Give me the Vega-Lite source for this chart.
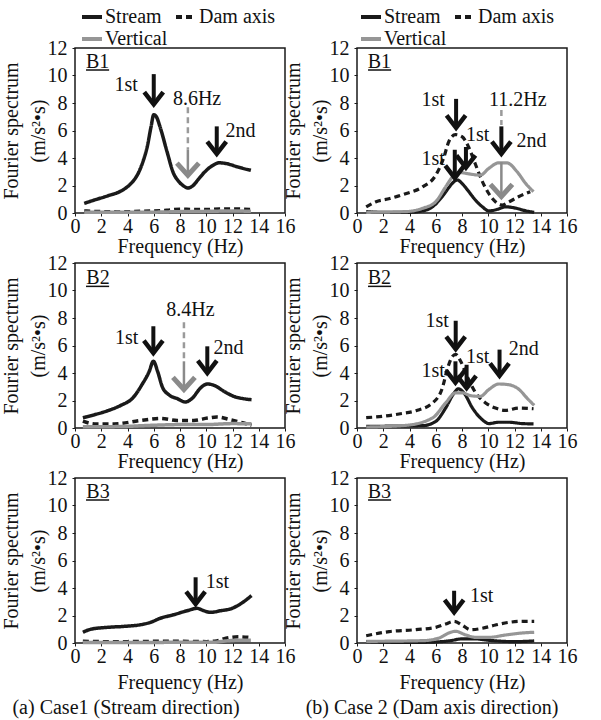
{
"$schema":"https://vega.github.io/schema/vega-lite/v6.json",
"background":"white",
"padding":{"left":0,"top":4,"right":0,"bottom":0},
"config":{
 "font":"Liberation Serif",
 "title":{"font":"Liberation Serif","fontSize":20,"fontWeight":"normal","color":"#111"},
 "axis":{"labelFont":"Liberation Serif","titleFont":"Liberation Serif"},
 "legend":{"labelFont":"Liberation Serif","titleFont":"Liberation Serif"},
 "style":{"guide-label":{"font":"Liberation Serif"},"guide-title":{"font":"Liberation Serif"}}
},
"datasets":{
 "curves":[
  {"p":"a1","s":"Stream","x":0.7,"y":0.7},{"p":"a1","s":"Stream","x":1.5,"y":0.95},{"p":"a1","s":"Stream","x":2.5,"y":1.25},{"p":"a1","s":"Stream","x":3.5,"y":1.6},{"p":"a1","s":"Stream","x":4.05,"y":1.95},{"p":"a1","s":"Stream","x":4.5,"y":2.4},{"p":"a1","s":"Stream","x":4.85,"y":2.95},{"p":"a1","s":"Stream","x":5.2,"y":3.8},{"p":"a1","s":"Stream","x":5.5,"y":4.8},{"p":"a1","s":"Stream","x":5.8,"y":6.3},{"p":"a1","s":"Stream","x":6.0,"y":7.15},{"p":"a1","s":"Stream","x":6.2,"y":7.0},{"p":"a1","s":"Stream","x":6.5,"y":6.2},{"p":"a1","s":"Stream","x":7.0,"y":4.5},{"p":"a1","s":"Stream","x":7.5,"y":2.9},{"p":"a1","s":"Stream","x":7.9,"y":2.3},{"p":"a1","s":"Stream","x":8.3,"y":1.95},{"p":"a1","s":"Stream","x":8.6,"y":1.82},{"p":"a1","s":"Stream","x":9.0,"y":2.0},{"p":"a1","s":"Stream","x":9.4,"y":2.45},{"p":"a1","s":"Stream","x":9.9,"y":3.0},{"p":"a1","s":"Stream","x":10.4,"y":3.4},{"p":"a1","s":"Stream","x":11.0,"y":3.65},{"p":"a1","s":"Stream","x":11.5,"y":3.6},{"p":"a1","s":"Stream","x":12.4,"y":3.35},{"p":"a1","s":"Stream","x":13.4,"y":3.1},
  {"p":"a1","s":"Dam axis","x":0.7,"y":0.15},{"p":"a1","s":"Dam axis","x":2,"y":0.1},{"p":"a1","s":"Dam axis","x":3.5,"y":0.08},{"p":"a1","s":"Dam axis","x":5,"y":0.12},{"p":"a1","s":"Dam axis","x":6,"y":0.15},{"p":"a1","s":"Dam axis","x":7,"y":0.2},{"p":"a1","s":"Dam axis","x":8,"y":0.28},{"p":"a1","s":"Dam axis","x":9,"y":0.25},{"p":"a1","s":"Dam axis","x":10,"y":0.25},{"p":"a1","s":"Dam axis","x":11,"y":0.3},{"p":"a1","s":"Dam axis","x":12,"y":0.3},{"p":"a1","s":"Dam axis","x":13.4,"y":0.25},
  {"p":"a1","s":"Vertical","x":0.7,"y":0.05},{"p":"a1","s":"Vertical","x":3,"y":0.05},{"p":"a1","s":"Vertical","x":6,"y":0.06},{"p":"a1","s":"Vertical","x":8,"y":0.1},{"p":"a1","s":"Vertical","x":10,"y":0.12},{"p":"a1","s":"Vertical","x":12,"y":0.15},{"p":"a1","s":"Vertical","x":13.4,"y":0.12},

  {"p":"b1","s":"Stream","x":0.7,"y":0.1},{"p":"b1","s":"Stream","x":2,"y":0.05},{"p":"b1","s":"Stream","x":4,"y":0.05},{"p":"b1","s":"Stream","x":5.0,"y":0.15},{"p":"b1","s":"Stream","x":5.75,"y":0.45},{"p":"b1","s":"Stream","x":6.5,"y":1.2},{"p":"b1","s":"Stream","x":7.0,"y":1.85},{"p":"b1","s":"Stream","x":7.3,"y":2.2},{"p":"b1","s":"Stream","x":7.65,"y":2.4},{"p":"b1","s":"Stream","x":8.0,"y":2.15},{"p":"b1","s":"Stream","x":8.4,"y":1.7},{"p":"b1","s":"Stream","x":8.8,"y":1.2},{"p":"b1","s":"Stream","x":9.2,"y":0.75},{"p":"b1","s":"Stream","x":9.55,"y":0.45},{"p":"b1","s":"Stream","x":10.05,"y":0.15},{"p":"b1","s":"Stream","x":10.7,"y":0.27},{"p":"b1","s":"Stream","x":11.3,"y":0.45},{"p":"b1","s":"Stream","x":12.1,"y":0.35},{"p":"b1","s":"Stream","x":12.8,"y":0.17},{"p":"b1","s":"Stream","x":13.5,"y":0.05},
  {"p":"b1","s":"Dam axis","x":0.7,"y":0.45},{"p":"b1","s":"Dam axis","x":1.45,"y":0.82},{"p":"b1","s":"Dam axis","x":2.5,"y":1.05},{"p":"b1","s":"Dam axis","x":3.7,"y":1.4},{"p":"b1","s":"Dam axis","x":5.0,"y":1.9},{"p":"b1","s":"Dam axis","x":6.0,"y":2.75},{"p":"b1","s":"Dam axis","x":6.6,"y":4.0},{"p":"b1","s":"Dam axis","x":7.0,"y":5.2},{"p":"b1","s":"Dam axis","x":7.5,"y":5.7},{"p":"b1","s":"Dam axis","x":8.0,"y":5.55},{"p":"b1","s":"Dam axis","x":8.5,"y":4.8},{"p":"b1","s":"Dam axis","x":9.0,"y":3.6},{"p":"b1","s":"Dam axis","x":9.5,"y":2.4},{"p":"b1","s":"Dam axis","x":10.05,"y":1.4},{"p":"b1","s":"Dam axis","x":10.55,"y":0.82},{"p":"b1","s":"Dam axis","x":11.05,"y":0.58},{"p":"b1","s":"Dam axis","x":11.6,"y":0.82},{"p":"b1","s":"Dam axis","x":12.3,"y":1.18},{"p":"b1","s":"Dam axis","x":13.2,"y":1.55},
  {"p":"b1","s":"Vertical","x":0.7,"y":0.05},{"p":"b1","s":"Vertical","x":3.7,"y":0.1},{"p":"b1","s":"Vertical","x":5.0,"y":0.34},{"p":"b1","s":"Vertical","x":6.0,"y":0.82},{"p":"b1","s":"Vertical","x":6.75,"y":1.9},{"p":"b1","s":"Vertical","x":7.3,"y":2.65},{"p":"b1","s":"Vertical","x":7.8,"y":2.95},{"p":"b1","s":"Vertical","x":8.5,"y":2.85},{"p":"b1","s":"Vertical","x":9.4,"y":2.75},{"p":"b1","s":"Vertical","x":10.05,"y":3.25},{"p":"b1","s":"Vertical","x":10.8,"y":3.65},{"p":"b1","s":"Vertical","x":11.4,"y":3.65},{"p":"b1","s":"Vertical","x":12.2,"y":3.0},{"p":"b1","s":"Vertical","x":12.85,"y":2.15},{"p":"b1","s":"Vertical","x":13.45,"y":1.55},

  {"p":"a2","s":"Stream","x":0.6,"y":0.75},{"p":"a2","s":"Stream","x":1.5,"y":0.97},{"p":"a2","s":"Stream","x":2.5,"y":1.26},{"p":"a2","s":"Stream","x":3.5,"y":1.65},{"p":"a2","s":"Stream","x":4.4,"y":2.18},{"p":"a2","s":"Stream","x":5.1,"y":3.15},{"p":"a2","s":"Stream","x":5.65,"y":4.1},{"p":"a2","s":"Stream","x":5.97,"y":4.85},{"p":"a2","s":"Stream","x":6.3,"y":4.1},{"p":"a2","s":"Stream","x":6.65,"y":3.0},{"p":"a2","s":"Stream","x":7.15,"y":2.42},{"p":"a2","s":"Stream","x":7.8,"y":2.13},{"p":"a2","s":"Stream","x":8.4,"y":1.89},{"p":"a2","s":"Stream","x":8.95,"y":2.18},{"p":"a2","s":"Stream","x":9.55,"y":2.9},{"p":"a2","s":"Stream","x":10.1,"y":3.2},{"p":"a2","s":"Stream","x":10.6,"y":3.1},{"p":"a2","s":"Stream","x":11.35,"y":2.67},{"p":"a2","s":"Stream","x":12.1,"y":2.3},{"p":"a2","s":"Stream","x":12.85,"y":2.13},{"p":"a2","s":"Stream","x":13.45,"y":2.06},
  {"p":"a2","s":"Dam axis","x":0.6,"y":0.5},{"p":"a2","s":"Dam axis","x":1.5,"y":0.3},{"p":"a2","s":"Dam axis","x":3,"y":0.3},{"p":"a2","s":"Dam axis","x":5,"y":0.55},{"p":"a2","s":"Dam axis","x":6.5,"y":0.7},{"p":"a2","s":"Dam axis","x":7.8,"y":0.55},{"p":"a2","s":"Dam axis","x":9.05,"y":0.55},{"p":"a2","s":"Dam axis","x":10.1,"y":0.72},{"p":"a2","s":"Dam axis","x":10.8,"y":0.8},{"p":"a2","s":"Dam axis","x":11.85,"y":0.6},{"p":"a2","s":"Dam axis","x":12.85,"y":0.36},{"p":"a2","s":"Dam axis","x":13.45,"y":0.2},
  {"p":"a2","s":"Vertical","x":0.6,"y":0.1},{"p":"a2","s":"Vertical","x":3,"y":0.1},{"p":"a2","s":"Vertical","x":6,"y":0.2},{"p":"a2","s":"Vertical","x":8,"y":0.25},{"p":"a2","s":"Vertical","x":10,"y":0.25},{"p":"a2","s":"Vertical","x":12,"y":0.32},{"p":"a2","s":"Vertical","x":13.45,"y":0.3},

  {"p":"b2","s":"Stream","x":0.7,"y":0.12},{"p":"b2","s":"Stream","x":5.0,"y":0.17},{"p":"b2","s":"Stream","x":6.0,"y":0.48},{"p":"b2","s":"Stream","x":6.75,"y":1.45},{"p":"b2","s":"Stream","x":7.4,"y":2.55},{"p":"b2","s":"Stream","x":7.72,"y":2.85},{"p":"b2","s":"Stream","x":8.15,"y":2.55},{"p":"b2","s":"Stream","x":8.8,"y":1.45},{"p":"b2","s":"Stream","x":9.55,"y":0.6},{"p":"b2","s":"Stream","x":10.05,"y":0.32},{"p":"b2","s":"Stream","x":10.8,"y":0.42},{"p":"b2","s":"Stream","x":11.55,"y":0.42},{"p":"b2","s":"Stream","x":12.6,"y":0.32},{"p":"b2","s":"Stream","x":13.45,"y":0.3},
  {"p":"b2","s":"Dam axis","x":0.7,"y":0.75},{"p":"b2","s":"Dam axis","x":1.95,"y":0.85},{"p":"b2","s":"Dam axis","x":3.2,"y":1.02},{"p":"b2","s":"Dam axis","x":4.5,"y":1.26},{"p":"b2","s":"Dam axis","x":5.75,"y":1.82},{"p":"b2","s":"Dam axis","x":6.5,"y":2.9},{"p":"b2","s":"Dam axis","x":6.9,"y":4.35},{"p":"b2","s":"Dam axis","x":7.27,"y":5.2},{"p":"b2","s":"Dam axis","x":7.52,"y":5.35},{"p":"b2","s":"Dam axis","x":7.9,"y":4.85},{"p":"b2","s":"Dam axis","x":8.4,"y":3.75},{"p":"b2","s":"Dam axis","x":9.05,"y":2.55},{"p":"b2","s":"Dam axis","x":9.8,"y":1.82},{"p":"b2","s":"Dam axis","x":10.55,"y":1.45},{"p":"b2","s":"Dam axis","x":11.3,"y":1.28},{"p":"b2","s":"Dam axis","x":12.35,"y":1.45},{"p":"b2","s":"Dam axis","x":13.45,"y":1.4},
  {"p":"b2","s":"Vertical","x":0.7,"y":0.07},{"p":"b2","s":"Vertical","x":3.7,"y":0.19},{"p":"b2","s":"Vertical","x":5.75,"y":0.73},{"p":"b2","s":"Vertical","x":6.75,"y":1.82},{"p":"b2","s":"Vertical","x":7.5,"y":2.55},{"p":"b2","s":"Vertical","x":8.05,"y":2.55},{"p":"b2","s":"Vertical","x":8.65,"y":2.35},{"p":"b2","s":"Vertical","x":9.4,"y":2.3},{"p":"b2","s":"Vertical","x":10.05,"y":2.8},{"p":"b2","s":"Vertical","x":10.8,"y":3.2},{"p":"b2","s":"Vertical","x":11.55,"y":3.15},{"p":"b2","s":"Vertical","x":12.35,"y":2.8},{"p":"b2","s":"Vertical","x":12.95,"y":2.18},{"p":"b2","s":"Vertical","x":13.5,"y":1.65},

  {"p":"a3","s":"Stream","x":0.6,"y":0.78},{"p":"a3","s":"Stream","x":1.2,"y":1.0},{"p":"a3","s":"Stream","x":2.5,"y":1.14},{"p":"a3","s":"Stream","x":3.75,"y":1.21},{"p":"a3","s":"Stream","x":5.0,"y":1.33},{"p":"a3","s":"Stream","x":5.75,"y":1.5},{"p":"a3","s":"Stream","x":6.5,"y":1.8},{"p":"a3","s":"Stream","x":7.5,"y":2.05},{"p":"a3","s":"Stream","x":8.55,"y":2.35},{"p":"a3","s":"Stream","x":9.3,"y":2.52},{"p":"a3","s":"Stream","x":9.8,"y":2.35},{"p":"a3","s":"Stream","x":10.35,"y":2.23},{"p":"a3","s":"Stream","x":11.1,"y":2.35},{"p":"a3","s":"Stream","x":11.85,"y":2.48},{"p":"a3","s":"Stream","x":12.6,"y":2.84},{"p":"a3","s":"Stream","x":13.45,"y":3.45},
  {"p":"a3","s":"Dam axis","x":0.6,"y":0.12},{"p":"a3","s":"Dam axis","x":2,"y":0.1},{"p":"a3","s":"Dam axis","x":4,"y":0.1},{"p":"a3","s":"Dam axis","x":6,"y":0.12},{"p":"a3","s":"Dam axis","x":8,"y":0.12},{"p":"a3","s":"Dam axis","x":10,"y":0.1},{"p":"a3","s":"Dam axis","x":10.8,"y":0.15},{"p":"a3","s":"Dam axis","x":11.5,"y":0.35},{"p":"a3","s":"Dam axis","x":12.5,"y":0.45},{"p":"a3","s":"Dam axis","x":13.4,"y":0.4},
  {"p":"a3","s":"Vertical","x":0.6,"y":0.03},{"p":"a3","s":"Vertical","x":4,"y":0.03},{"p":"a3","s":"Vertical","x":8,"y":0.05},{"p":"a3","s":"Vertical","x":10.5,"y":0.05},{"p":"a3","s":"Vertical","x":11.5,"y":0.15},{"p":"a3","s":"Vertical","x":12.5,"y":0.2},{"p":"a3","s":"Vertical","x":13.4,"y":0.2},

  {"p":"b3","s":"Stream","x":0.7,"y":0.1},{"p":"b3","s":"Stream","x":3,"y":0.05},{"p":"b3","s":"Stream","x":5,"y":0.05},{"p":"b3","s":"Stream","x":7,"y":0.15},{"p":"b3","s":"Stream","x":8,"y":0.3},{"p":"b3","s":"Stream","x":9,"y":0.3},{"p":"b3","s":"Stream","x":10,"y":0.2},{"p":"b3","s":"Stream","x":12,"y":0.1},{"p":"b3","s":"Stream","x":13.5,"y":0.15},
  {"p":"b3","s":"Dam axis","x":0.7,"y":0.53},{"p":"b3","s":"Dam axis","x":2.45,"y":0.83},{"p":"b3","s":"Dam axis","x":4.5,"y":0.97},{"p":"b3","s":"Dam axis","x":6.0,"y":1.14},{"p":"b3","s":"Dam axis","x":6.75,"y":1.38},{"p":"b3","s":"Dam axis","x":7.4,"y":1.58},{"p":"b3","s":"Dam axis","x":8.0,"y":1.31},{"p":"b3","s":"Dam axis","x":8.65,"y":0.97},{"p":"b3","s":"Dam axis","x":9.55,"y":1.07},{"p":"b3","s":"Dam axis","x":10.55,"y":1.31},{"p":"b3","s":"Dam axis","x":11.55,"y":1.5},{"p":"b3","s":"Dam axis","x":12.6,"y":1.58},{"p":"b3","s":"Dam axis","x":13.5,"y":1.58},
  {"p":"b3","s":"Vertical","x":0.7,"y":0.12},{"p":"b3","s":"Vertical","x":5.0,"y":0.17},{"p":"b3","s":"Vertical","x":6.25,"y":0.36},{"p":"b3","s":"Vertical","x":7.0,"y":0.73},{"p":"b3","s":"Vertical","x":7.5,"y":0.85},{"p":"b3","s":"Vertical","x":8.3,"y":0.58},{"p":"b3","s":"Vertical","x":9.05,"y":0.41},{"p":"b3","s":"Vertical","x":10.05,"y":0.41},{"p":"b3","s":"Vertical","x":11.3,"y":0.58},{"p":"b3","s":"Vertical","x":12.6,"y":0.73},{"p":"b3","s":"Vertical","x":13.5,"y":0.78}
 ],
 "labels":[
  {"p":"a1","x":1.72,"y":11.0,"t":"B1"},{"p":"a1","x":3.9,"y":9.3,"t":"1st"},{"p":"a1","x":9.3,"y":8.3,"t":"8.6Hz"},{"p":"a1","x":12.6,"y":6.0,"t":"2nd"},
  {"p":"b1","x":1.7,"y":11.0,"t":"B1"},{"p":"b1","x":5.8,"y":8.2,"t":"1st"},{"p":"b1","x":9.2,"y":5.65,"t":"1st"},{"p":"b1","x":5.8,"y":3.9,"t":"1st"},{"p":"b1","x":12.25,"y":8.25,"t":"11.2Hz"},{"p":"b1","x":13.3,"y":5.25,"t":"2nd"},
  {"p":"a2","x":1.75,"y":10.9,"t":"B2"},{"p":"a2","x":3.93,"y":6.55,"t":"1st"},{"p":"a2","x":8.8,"y":8.6,"t":"8.4Hz"},{"p":"a2","x":11.7,"y":5.8,"t":"2nd"},
  {"p":"b2","x":1.7,"y":10.9,"t":"B2"},{"p":"b2","x":6.1,"y":7.76,"t":"1st"},{"p":"b2","x":5.8,"y":4.17,"t":"1st"},{"p":"b2","x":9.2,"y":5.14,"t":"1st"},{"p":"b2","x":12.7,"y":5.77,"t":"2nd"},
  {"p":"a3","x":1.75,"y":11.0,"t":"B3"},{"p":"a3","x":10.85,"y":4.42,"t":"1st"},
  {"p":"b3","x":1.7,"y":11.0,"t":"B3"},{"p":"b3","x":9.5,"y":3.4,"t":"1st"}
 ],
 "unders":[
  {"p":"a1","x":0.84,"x2":2.6,"y":10.4},{"p":"b1","x":0.84,"x2":2.6,"y":10.4},
  {"p":"a2","x":0.84,"x2":2.6,"y":10.3},{"p":"b2","x":0.84,"x2":2.6,"y":10.3},
  {"p":"a3","x":0.84,"x2":2.6,"y":10.4},{"p":"b3","x":0.84,"x2":2.6,"y":10.4}
 ],
 "arrows":[
  {"p":"a1","x":6.0,"y":10.1,"tip":7.9},{"p":"a1","x":10.8,"y":6.3,"tip":4.3},
  {"p":"b1","x":7.55,"y":8.3,"tip":6.2},{"p":"b1","x":7.45,"y":4.6,"tip":2.55},{"p":"b1","x":8.3,"y":4.8,"tip":3.3},{"p":"b1","x":11.0,"y":6.3,"tip":4.3},
  {"p":"a2","x":5.97,"y":7.4,"tip":5.45},{"p":"a2","x":10.08,"y":5.94,"tip":4.0},
  {"p":"b2","x":7.52,"y":7.8,"tip":5.75},{"p":"b2","x":7.5,"y":4.85,"tip":3.3},{"p":"b2","x":8.35,"y":4.6,"tip":2.9},{"p":"b2","x":10.86,"y":5.7,"tip":3.8},
  {"p":"a3","x":9.19,"y":4.78,"tip":2.84},
  {"p":"b3","x":7.4,"y":3.8,"tip":2.23}
 ],
 "garrows":[
  {"p":"a1","x":8.6,"y":4.6,"tip":2.75},
  {"p":"b1","x":11.0,"y":3.7,"tip":1.2},
  {"p":"a2","x":8.3,"y":4.85,"tip":2.8}
 ],
 "guides":[
  {"p":"a1","x":8.6,"y":7.7,"y2":4.6},
  {"p":"b1","x":11.0,"y":7.5,"y2":6.4},
  {"p":"a2","x":8.3,"y":7.7,"y2":4.85}
 ]
},
"columns":2,
"bounds":"flush",
"spacing":{"row":50,"column":72},
"resolve":{"scale":{"color":"independent","strokeDash":"independent"},"legend":{"color":"independent","strokeDash":"independent"}},
"concat":[
 {"width":210,"height":165,"view":{"stroke":"#1a1a1a","strokeWidth":1.5},
  "encoding":{
   "x":{"field":"x","type":"quantitative","scale":{"domain":[0,16],"nice":false},"axis":{"title":"Frequency (Hz)","values":[0,2,4,6,8,10,12,14,16],"labelFont":"Liberation Serif","labelFontSize":20,"labelColor":"#111","titleFont":"Liberation Serif","titleFontSize":20,"titleFontWeight":"normal","titleColor":"#111","grid":false,"domain":false,"tickColor":"#1a1a1a","tickSize":3,"labelFlush":false,"labelOverlap":false,"labelPadding":0,"titlePadding":0}},
   "y":{"field":"y","type":"quantitative","scale":{"domain":[0,12],"nice":false},"axis":{"title":["Fourier spectrum","(m/s²•s)"],"values":[0,2,4,6,8,10,12],"labelFont":"Liberation Serif","labelFontSize":20,"labelColor":"#111","titleFont":"Liberation Serif","titleFontSize":20,"titleFontWeight":"normal","titleColor":"#111","grid":false,"domain":false,"tickColor":"#1a1a1a","tickSize":3,"labelFlush":false,"labelOverlap":false,"labelPadding":5,"titlePadding":-1,"titleLineHeight":27}}},
  "layer":[
   {"data":{"name":"curves"},"transform":[{"filter":"datum.p=='a1'"}],"mark":{"type":"line","strokeWidth":3.5,"interpolate":"monotone"},
    "encoding":{"color":{"field":"s","type":"nominal","scale":{"domain":["Stream","Dam axis","Vertical"],"range":["#1a1a1a","#1a1a1a","#969696"]},"legend":{"title":null,"orient":"none","legendX":5,"legendY":-43,"columns":2,"direction":"horizontal","symbolType":"stroke","symbolSize":400,"symbolStrokeWidth":4,"labelFont":"Liberation Serif","labelFontSize":20,"labelColor":"#111","labelOffset":1,"rowPadding":0,"columnPadding":0,"padding":0,"gridAlign":"each"}},
     "strokeDash":{"field":"s","type":"nominal","scale":{"domain":["Stream","Dam axis","Vertical"],"range":[[1,0],[6,4],[1,0]]},"legend":{"title":null,"orient":"none","legendX":5,"legendY":-43,"columns":2,"direction":"horizontal","symbolType":"stroke","symbolSize":400,"symbolStrokeWidth":4,"labelFont":"Liberation Serif","labelFontSize":20,"labelColor":"#111","labelOffset":1,"rowPadding":0,"columnPadding":0,"padding":0,"gridAlign":"each"}}}},
   {"data":{"name":"guides"},"transform":[{"filter":"datum.p=='a1'"}],"mark":{"type":"rule","color":"#9a9a9a","strokeWidth":2.5,"strokeDash":[6,4]},"encoding":{"y2":{"field":"y2"}}},
   {"data":{"name":"garrows"},"transform":[{"filter":"datum.p=='a1'"}],"mark":{"type":"rule","color":"#8a8a8a","strokeWidth":2.5},"encoding":{"y2":{"field":"tip"}}},
   {"data":{"name":"garrows"},"transform":[{"filter":"datum.p=='a1'"}],"mark":{"type":"point","shape":"M-1,-1.1L0,0L1,-1.1","size":484,"filled":false,"strokeWidth":5,"color":"#8a8a8a","opacity":1},"encoding":{"y":{"field":"tip","type":"quantitative","scale":{"domain":[0,12],"nice":false},"title":["Fourier spectrum","(m/s²•s)"]}}},
   {"data":{"name":"arrows"},"transform":[{"filter":"datum.p=='a1'"}],"mark":{"type":"rule","color":"#111","strokeWidth":4},"encoding":{"y2":{"field":"tip"}}},
   {"data":{"name":"arrows"},"transform":[{"filter":"datum.p=='a1'"}],"mark":{"type":"point","shape":"M-1,-1.3L0,0L1,-1.3","size":361,"filled":false,"strokeWidth":4.5,"color":"#111","opacity":1},"encoding":{"y":{"field":"tip","type":"quantitative","scale":{"domain":[0,12],"nice":false},"title":["Fourier spectrum","(m/s²•s)"]}}},
   {"data":{"name":"labels"},"transform":[{"filter":"datum.p=='a1'"}],"mark":{"type":"text","font":"Liberation Serif","fontSize":20,"color":"#111"},"encoding":{"text":{"field":"t"}}},
   {"data":{"name":"unders"},"transform":[{"filter":"datum.p=='a1'"}],"mark":{"type":"rule","color":"#111","strokeWidth":1.5},"encoding":{"x2":{"field":"x2"}}}
  ]},
 {"width":210,"height":165,"view":{"stroke":"#1a1a1a","strokeWidth":1.5},
  "encoding":{
   "x":{"field":"x","type":"quantitative","scale":{"domain":[0,16],"nice":false},"axis":{"title":"Frequency (Hz)","values":[0,2,4,6,8,10,12,14,16],"labelFont":"Liberation Serif","labelFontSize":20,"labelColor":"#111","titleFont":"Liberation Serif","titleFontSize":20,"titleFontWeight":"normal","titleColor":"#111","grid":false,"domain":false,"tickColor":"#1a1a1a","tickSize":3,"labelFlush":false,"labelOverlap":false,"labelPadding":0,"titlePadding":0}},
   "y":{"field":"y","type":"quantitative","scale":{"domain":[0,12],"nice":false},"axis":{"title":["Fourier spectrum","(m/s²•s)"],"values":[0,2,4,6,8,10,12],"labelFont":"Liberation Serif","labelFontSize":20,"labelColor":"#111","titleFont":"Liberation Serif","titleFontSize":20,"titleFontWeight":"normal","titleColor":"#111","grid":false,"domain":false,"tickColor":"#1a1a1a","tickSize":3,"labelFlush":false,"labelOverlap":false,"labelPadding":5,"titlePadding":-1,"titleLineHeight":27}}},
  "layer":[
   {"data":{"name":"curves"},"transform":[{"filter":"datum.p=='b1'"}],"mark":{"type":"line","strokeWidth":3.2,"interpolate":"monotone"},
    "encoding":{"color":{"field":"s","type":"nominal","scale":{"domain":["Stream","Dam axis","Vertical"],"range":["#1a1a1a","#1a1a1a","#969696"]},"legend":{"title":null,"orient":"none","legendX":2,"legendY":-43,"columns":2,"direction":"horizontal","symbolType":"stroke","symbolSize":400,"symbolStrokeWidth":4,"labelFont":"Liberation Serif","labelFontSize":20,"labelColor":"#111","labelOffset":1,"rowPadding":0,"columnPadding":0,"padding":0,"gridAlign":"each"}},
     "strokeDash":{"field":"s","type":"nominal","scale":{"domain":["Stream","Dam axis","Vertical"],"range":[[1,0],[6,4],[1,0]]},"legend":{"title":null,"orient":"none","legendX":2,"legendY":-43,"columns":2,"direction":"horizontal","symbolType":"stroke","symbolSize":400,"symbolStrokeWidth":4,"labelFont":"Liberation Serif","labelFontSize":20,"labelColor":"#111","labelOffset":1,"rowPadding":0,"columnPadding":0,"padding":0,"gridAlign":"each"}}}},
   {"data":{"name":"guides"},"transform":[{"filter":"datum.p=='b1'"}],"mark":{"type":"rule","color":"#9a9a9a","strokeWidth":2.5,"strokeDash":[6,4]},"encoding":{"y2":{"field":"y2"}}},
   {"data":{"name":"garrows"},"transform":[{"filter":"datum.p=='b1'"}],"mark":{"type":"rule","color":"#8a8a8a","strokeWidth":2.5},"encoding":{"y2":{"field":"tip"}}},
   {"data":{"name":"garrows"},"transform":[{"filter":"datum.p=='b1'"}],"mark":{"type":"point","shape":"M-1,-1.1L0,0L1,-1.1","size":484,"filled":false,"strokeWidth":5,"color":"#8a8a8a","opacity":1},"encoding":{"y":{"field":"tip","type":"quantitative","scale":{"domain":[0,12],"nice":false},"title":["Fourier spectrum","(m/s²•s)"]}}},
   {"data":{"name":"arrows"},"transform":[{"filter":"datum.p=='b1'"}],"mark":{"type":"rule","color":"#111","strokeWidth":4},"encoding":{"y2":{"field":"tip"}}},
   {"data":{"name":"arrows"},"transform":[{"filter":"datum.p=='b1'"}],"mark":{"type":"point","shape":"M-1,-1.3L0,0L1,-1.3","size":361,"filled":false,"strokeWidth":4.5,"color":"#111","opacity":1},"encoding":{"y":{"field":"tip","type":"quantitative","scale":{"domain":[0,12],"nice":false},"title":["Fourier spectrum","(m/s²•s)"]}}},
   {"data":{"name":"labels"},"transform":[{"filter":"datum.p=='b1'"}],"mark":{"type":"text","font":"Liberation Serif","fontSize":20,"color":"#111"},"encoding":{"text":{"field":"t"}}},
   {"data":{"name":"unders"},"transform":[{"filter":"datum.p=='b1'"}],"mark":{"type":"rule","color":"#111","strokeWidth":1.5},"encoding":{"x2":{"field":"x2"}}}
  ]},
 {"width":210,"height":165,"view":{"stroke":"#1a1a1a","strokeWidth":1.5},
  "encoding":{
   "x":{"field":"x","type":"quantitative","scale":{"domain":[0,16],"nice":false},"axis":{"title":"Frequency (Hz)","values":[0,2,4,6,8,10,12,14,16],"labelFont":"Liberation Serif","labelFontSize":20,"labelColor":"#111","titleFont":"Liberation Serif","titleFontSize":20,"titleFontWeight":"normal","titleColor":"#111","grid":false,"domain":false,"tickColor":"#1a1a1a","tickSize":3,"labelFlush":false,"labelOverlap":false,"labelPadding":0,"titlePadding":0}},
   "y":{"field":"y","type":"quantitative","scale":{"domain":[0,12],"nice":false},"axis":{"title":["Fourier spectrum","(m/s²•s)"],"values":[0,2,4,6,8,10,12],"labelFont":"Liberation Serif","labelFontSize":20,"labelColor":"#111","titleFont":"Liberation Serif","titleFontSize":20,"titleFontWeight":"normal","titleColor":"#111","grid":false,"domain":false,"tickColor":"#1a1a1a","tickSize":3,"labelFlush":false,"labelOverlap":false,"labelPadding":5,"titlePadding":-1,"titleLineHeight":27}}},
  "layer":[
   {"data":{"name":"curves"},"transform":[{"filter":"datum.p=='a2'"}],"mark":{"type":"line","strokeWidth":3.5,"interpolate":"monotone"},
    "encoding":{"color":{"field":"s","type":"nominal","scale":{"domain":["Stream","Dam axis","Vertical"],"range":["#1a1a1a","#1a1a1a","#969696"]},"legend":null},
     "strokeDash":{"field":"s","type":"nominal","scale":{"domain":["Stream","Dam axis","Vertical"],"range":[[1,0],[6,4],[1,0]]},"legend":null}}},
   {"data":{"name":"guides"},"transform":[{"filter":"datum.p=='a2'"}],"mark":{"type":"rule","color":"#9a9a9a","strokeWidth":2.5,"strokeDash":[6,4]},"encoding":{"y2":{"field":"y2"}}},
   {"data":{"name":"garrows"},"transform":[{"filter":"datum.p=='a2'"}],"mark":{"type":"rule","color":"#8a8a8a","strokeWidth":2.5},"encoding":{"y2":{"field":"tip"}}},
   {"data":{"name":"garrows"},"transform":[{"filter":"datum.p=='a2'"}],"mark":{"type":"point","shape":"M-1,-1.1L0,0L1,-1.1","size":484,"filled":false,"strokeWidth":5,"color":"#8a8a8a","opacity":1},"encoding":{"y":{"field":"tip","type":"quantitative","scale":{"domain":[0,12],"nice":false},"title":["Fourier spectrum","(m/s²•s)"]}}},
   {"data":{"name":"arrows"},"transform":[{"filter":"datum.p=='a2'"}],"mark":{"type":"rule","color":"#111","strokeWidth":4},"encoding":{"y2":{"field":"tip"}}},
   {"data":{"name":"arrows"},"transform":[{"filter":"datum.p=='a2'"}],"mark":{"type":"point","shape":"M-1,-1.3L0,0L1,-1.3","size":361,"filled":false,"strokeWidth":4.5,"color":"#111","opacity":1},"encoding":{"y":{"field":"tip","type":"quantitative","scale":{"domain":[0,12],"nice":false},"title":["Fourier spectrum","(m/s²•s)"]}}},
   {"data":{"name":"labels"},"transform":[{"filter":"datum.p=='a2'"}],"mark":{"type":"text","font":"Liberation Serif","fontSize":20,"color":"#111"},"encoding":{"text":{"field":"t"}}},
   {"data":{"name":"unders"},"transform":[{"filter":"datum.p=='a2'"}],"mark":{"type":"rule","color":"#111","strokeWidth":1.5},"encoding":{"x2":{"field":"x2"}}}
  ]},
 {"width":210,"height":165,"view":{"stroke":"#1a1a1a","strokeWidth":1.5},
  "encoding":{
   "x":{"field":"x","type":"quantitative","scale":{"domain":[0,16],"nice":false},"axis":{"title":"Frequency (Hz)","values":[0,2,4,6,8,10,12,14,16],"labelFont":"Liberation Serif","labelFontSize":20,"labelColor":"#111","titleFont":"Liberation Serif","titleFontSize":20,"titleFontWeight":"normal","titleColor":"#111","grid":false,"domain":false,"tickColor":"#1a1a1a","tickSize":3,"labelFlush":false,"labelOverlap":false,"labelPadding":0,"titlePadding":0}},
   "y":{"field":"y","type":"quantitative","scale":{"domain":[0,12],"nice":false},"axis":{"title":["Fourier spectrum","(m/s²•s)"],"values":[0,2,4,6,8,10,12],"labelFont":"Liberation Serif","labelFontSize":20,"labelColor":"#111","titleFont":"Liberation Serif","titleFontSize":20,"titleFontWeight":"normal","titleColor":"#111","grid":false,"domain":false,"tickColor":"#1a1a1a","tickSize":3,"labelFlush":false,"labelOverlap":false,"labelPadding":5,"titlePadding":-1,"titleLineHeight":27}}},
  "layer":[
   {"data":{"name":"curves"},"transform":[{"filter":"datum.p=='b2'"}],"mark":{"type":"line","strokeWidth":3.2,"interpolate":"monotone"},
    "encoding":{"color":{"field":"s","type":"nominal","scale":{"domain":["Stream","Dam axis","Vertical"],"range":["#1a1a1a","#1a1a1a","#969696"]},"legend":null},
     "strokeDash":{"field":"s","type":"nominal","scale":{"domain":["Stream","Dam axis","Vertical"],"range":[[1,0],[6,4],[1,0]]},"legend":null}}},
   {"data":{"name":"arrows"},"transform":[{"filter":"datum.p=='b2'"}],"mark":{"type":"rule","color":"#111","strokeWidth":4},"encoding":{"y2":{"field":"tip"}}},
   {"data":{"name":"arrows"},"transform":[{"filter":"datum.p=='b2'"}],"mark":{"type":"point","shape":"M-1,-1.3L0,0L1,-1.3","size":361,"filled":false,"strokeWidth":4.5,"color":"#111","opacity":1},"encoding":{"y":{"field":"tip","type":"quantitative","scale":{"domain":[0,12],"nice":false},"title":["Fourier spectrum","(m/s²•s)"]}}},
   {"data":{"name":"labels"},"transform":[{"filter":"datum.p=='b2'"}],"mark":{"type":"text","font":"Liberation Serif","fontSize":20,"color":"#111"},"encoding":{"text":{"field":"t"}}},
   {"data":{"name":"unders"},"transform":[{"filter":"datum.p=='b2'"}],"mark":{"type":"rule","color":"#111","strokeWidth":1.5},"encoding":{"x2":{"field":"x2"}}}
  ]},
 {"width":210,"height":165,"view":{"stroke":"#1a1a1a","strokeWidth":1.5},
  "title":{"text":"(a) Case1 (Stream direction)","orient":"bottom","anchor":"middle","frame":"group","dx":-54,"offset":6},
  "encoding":{
   "x":{"field":"x","type":"quantitative","scale":{"domain":[0,16],"nice":false},"axis":{"title":"Frequency (Hz)","values":[0,2,4,6,8,10,12,14,16],"labelFont":"Liberation Serif","labelFontSize":20,"labelColor":"#111","titleFont":"Liberation Serif","titleFontSize":20,"titleFontWeight":"normal","titleColor":"#111","grid":false,"domain":false,"tickColor":"#1a1a1a","tickSize":3,"labelFlush":false,"labelOverlap":false,"labelPadding":0,"titlePadding":6}},
   "y":{"field":"y","type":"quantitative","scale":{"domain":[0,12],"nice":false},"axis":{"title":["Fourier spectrum","(m/s²•s)"],"values":[0,2,4,6,8,10,12],"labelFont":"Liberation Serif","labelFontSize":20,"labelColor":"#111","titleFont":"Liberation Serif","titleFontSize":20,"titleFontWeight":"normal","titleColor":"#111","grid":false,"domain":false,"tickColor":"#1a1a1a","tickSize":3,"labelFlush":false,"labelOverlap":false,"labelPadding":5,"titlePadding":-1,"titleLineHeight":27}}},
  "layer":[
   {"data":{"name":"curves"},"transform":[{"filter":"datum.p=='a3'"}],"mark":{"type":"line","strokeWidth":3.5,"interpolate":"monotone"},
    "encoding":{"color":{"field":"s","type":"nominal","scale":{"domain":["Stream","Dam axis","Vertical"],"range":["#1a1a1a","#1a1a1a","#969696"]},"legend":null},
     "strokeDash":{"field":"s","type":"nominal","scale":{"domain":["Stream","Dam axis","Vertical"],"range":[[1,0],[6,4],[1,0]]},"legend":null}}},
   {"data":{"name":"arrows"},"transform":[{"filter":"datum.p=='a3'"}],"mark":{"type":"rule","color":"#111","strokeWidth":4},"encoding":{"y2":{"field":"tip"}}},
   {"data":{"name":"arrows"},"transform":[{"filter":"datum.p=='a3'"}],"mark":{"type":"point","shape":"M-1,-1.3L0,0L1,-1.3","size":361,"filled":false,"strokeWidth":4.5,"color":"#111","opacity":1},"encoding":{"y":{"field":"tip","type":"quantitative","scale":{"domain":[0,12],"nice":false},"title":["Fourier spectrum","(m/s²•s)"]}}},
   {"data":{"name":"labels"},"transform":[{"filter":"datum.p=='a3'"}],"mark":{"type":"text","font":"Liberation Serif","fontSize":20,"color":"#111"},"encoding":{"text":{"field":"t"}}},
   {"data":{"name":"unders"},"transform":[{"filter":"datum.p=='a3'"}],"mark":{"type":"rule","color":"#111","strokeWidth":1.5},"encoding":{"x2":{"field":"x2"}}}
  ]},
 {"width":210,"height":165,"view":{"stroke":"#1a1a1a","strokeWidth":1.5},
  "title":{"text":"(b) Case 2 (Dam axis direction)","orient":"bottom","anchor":"middle","frame":"group","dx":-30,"offset":6},
  "encoding":{
   "x":{"field":"x","type":"quantitative","scale":{"domain":[0,16],"nice":false},"axis":{"title":"Frequency (Hz)","values":[0,2,4,6,8,10,12,14,16],"labelFont":"Liberation Serif","labelFontSize":20,"labelColor":"#111","titleFont":"Liberation Serif","titleFontSize":20,"titleFontWeight":"normal","titleColor":"#111","grid":false,"domain":false,"tickColor":"#1a1a1a","tickSize":3,"labelFlush":false,"labelOverlap":false,"labelPadding":0,"titlePadding":6}},
   "y":{"field":"y","type":"quantitative","scale":{"domain":[0,12],"nice":false},"axis":{"title":["Fourier spectrum","(m/s²•s)"],"values":[0,2,4,6,8,10,12],"labelFont":"Liberation Serif","labelFontSize":20,"labelColor":"#111","titleFont":"Liberation Serif","titleFontSize":20,"titleFontWeight":"normal","titleColor":"#111","grid":false,"domain":false,"tickColor":"#1a1a1a","tickSize":3,"labelFlush":false,"labelOverlap":false,"labelPadding":5,"titlePadding":-1,"titleLineHeight":27}}},
  "layer":[
   {"data":{"name":"curves"},"transform":[{"filter":"datum.p=='b3'"}],"mark":{"type":"line","strokeWidth":3.2,"interpolate":"monotone"},
    "encoding":{"color":{"field":"s","type":"nominal","scale":{"domain":["Stream","Dam axis","Vertical"],"range":["#1a1a1a","#1a1a1a","#969696"]},"legend":null},
     "strokeDash":{"field":"s","type":"nominal","scale":{"domain":["Stream","Dam axis","Vertical"],"range":[[1,0],[6,4],[1,0]]},"legend":null}}},
   {"data":{"name":"arrows"},"transform":[{"filter":"datum.p=='b3'"}],"mark":{"type":"rule","color":"#111","strokeWidth":4},"encoding":{"y2":{"field":"tip"}}},
   {"data":{"name":"arrows"},"transform":[{"filter":"datum.p=='b3'"}],"mark":{"type":"point","shape":"M-1,-1.3L0,0L1,-1.3","size":361,"filled":false,"strokeWidth":4.5,"color":"#111","opacity":1},"encoding":{"y":{"field":"tip","type":"quantitative","scale":{"domain":[0,12],"nice":false},"title":["Fourier spectrum","(m/s²•s)"]}}},
   {"data":{"name":"labels"},"transform":[{"filter":"datum.p=='b3'"}],"mark":{"type":"text","font":"Liberation Serif","fontSize":20,"color":"#111"},"encoding":{"text":{"field":"t"}}},
   {"data":{"name":"unders"},"transform":[{"filter":"datum.p=='b3'"}],"mark":{"type":"rule","color":"#111","strokeWidth":1.5},"encoding":{"x2":{"field":"x2"}}}
  ]}
]
}
